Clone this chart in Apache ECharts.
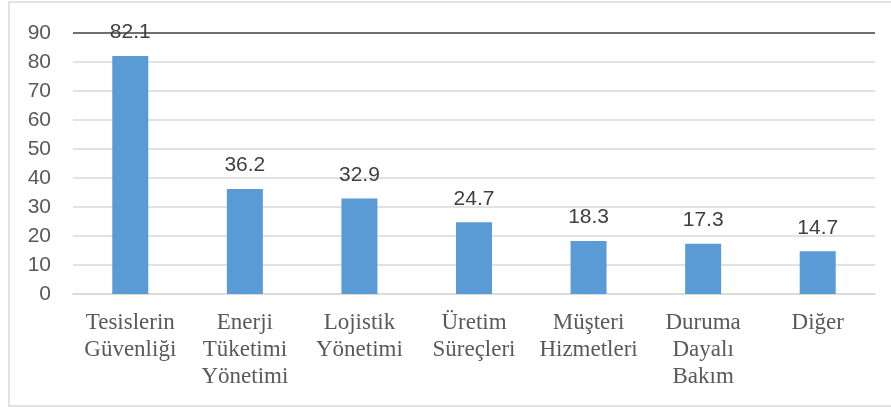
<!DOCTYPE html>
<html><head><meta charset="utf-8">
<script src="https://cdn.jsdelivr.net/npm/echarts@6/dist/echarts.min.js"></script>
<style>html,body{margin:0;padding:0;background:#fff}#c{width:891px;height:407px}</style>
</head><body><div id="c"></div>
<script>
const categories = ["Tesislerin\nGüvenliği","Enerji\nTüketimi\nYönetimi","Lojistik\nYönetimi","Üretim\nSüreçleri","Müşteri\nHizmetleri","Duruma\nDayalı\nBakım","Diğer"];
const values = [82.1, 36.2, 32.9, 24.7, 18.3, 17.3, 14.7];
const yTicks = [0,10,20,30,40,50,60,70,80,90];

const chart = echarts.init(document.getElementById('c'), null, {renderer:'canvas'});
chart.setOption({
  animation:false,
  backgroundColor:'#fff',
  graphic:[{type:'rect',shape:{x:9,y:2,width:900,height:404},style:{fill:'none',stroke:'#d9d9d9',lineWidth:1.5},silent:true}],
  grid:{left:73,right:16,top:33,bottom:113,containLabel:false},
  xAxis:{type:'category',data:categories,
    axisLine:{show:true,lineStyle:{color:'#d9d9d9',width:1.5}},
    axisTick:{show:false},
    axisLabel:{interval:0,margin:15,fontFamily:'Liberation Serif',fontSize:23,color:'#595959',lineHeight:27,verticalAlign:'top'}},
  yAxis:{type:'value',min:yTicks[0],max:yTicks[yTicks.length-1],interval:10,
    axisLine:{show:false},axisTick:{show:false},
    axisLabel:{margin:22,fontFamily:'Liberation Sans',fontSize:21,color:'#595959'},
    splitLine:{lineStyle:{color:['#d9d9d9','#d9d9d9','#d9d9d9','#d9d9d9','#d9d9d9','#d9d9d9','#d9d9d9','#d9d9d9','#d9d9d9','#404040'],width:1.5}}},
  series:[{type:'bar',data:values,barWidth:36,
    itemStyle:{color:'#5b9bd5'},
    label:{show:true,position:'top',distance:13,fontFamily:'Liberation Sans',fontSize:21,color:'#404040',formatter:p=>p.value.toFixed(1)}}]
});
</script></body></html>
